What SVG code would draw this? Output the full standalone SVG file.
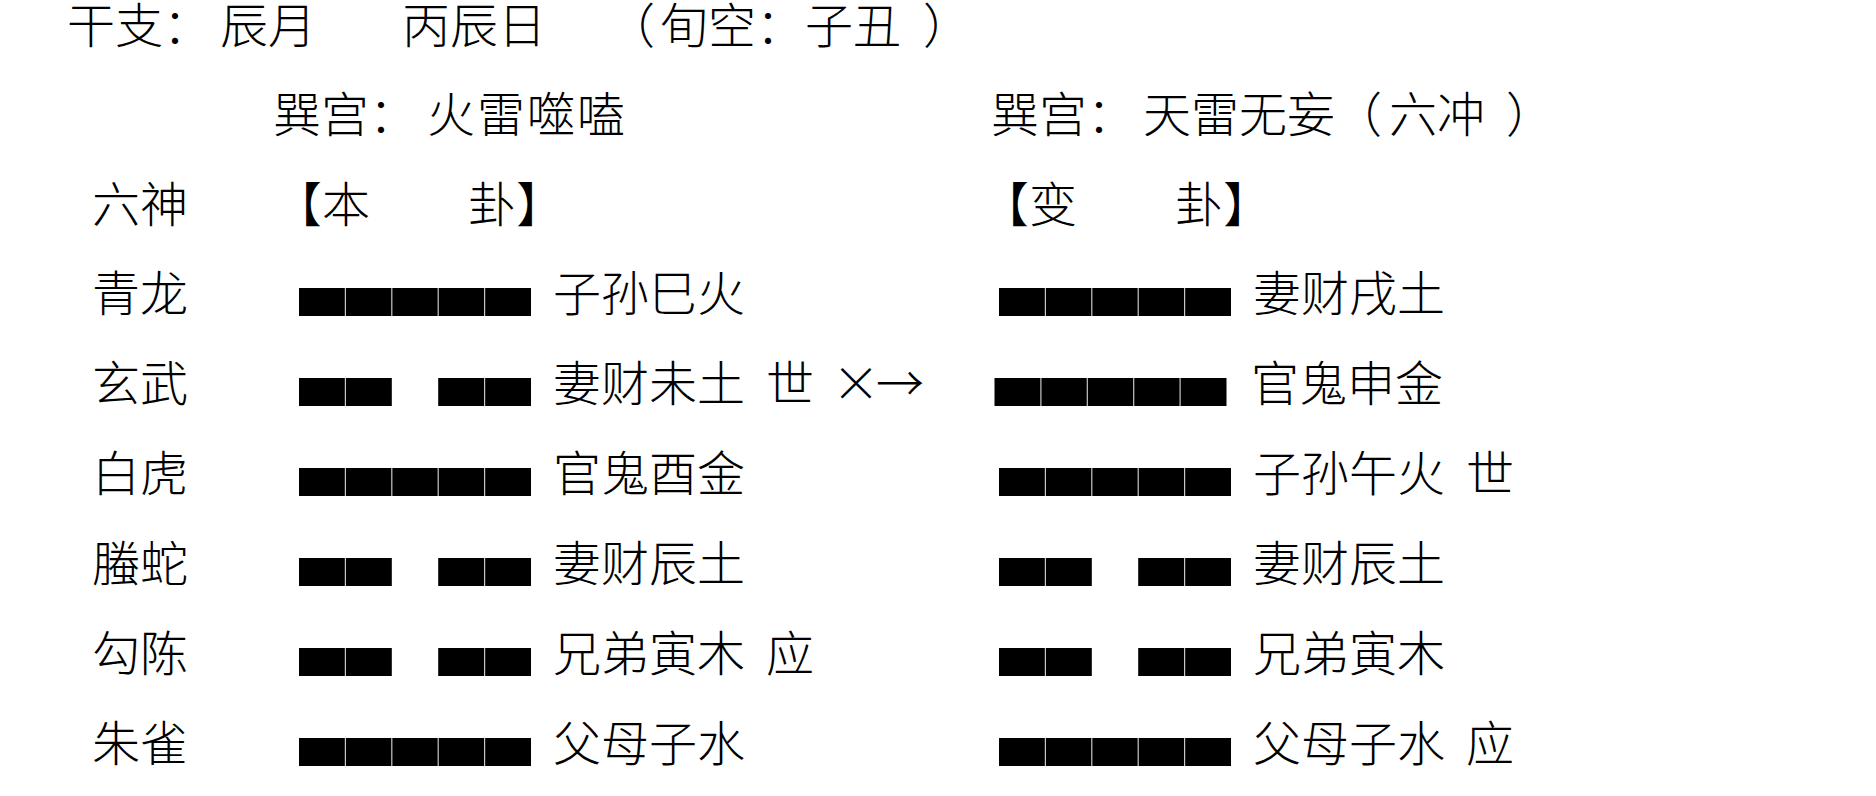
<svg xmlns="http://www.w3.org/2000/svg" width="1876" height="796" viewBox="0 0 1876 796">
<style>
text{font-family:"Noto Sans CJK SC","Noto Sans",sans-serif;font-size:48px;font-weight:300;fill:#000}
.sep{stroke:#c8c8c8;stroke-width:1.2}
</style>
<defs>
<g id="yang"><rect x="0" y="0" width="232" height="28" fill="#000"/><path class="sep" d="M46.4 0V28M92.8 0V28M139.2 0V28M185.6 0V28"/></g>
<g id="yin"><rect x="0" y="0" width="92.8" height="28" fill="#000"/><rect x="139.2" y="0" width="92.8" height="28" fill="#000"/><path class="sep" d="M46.4 0V28M185.6 0V28"/></g>
</defs>
<rect width="1876" height="796" fill="#fff"/>
<g id="header">
<text x="67" y="43">干支：</text>
<text x="220" y="43">辰月</text>
<text x="402" y="43">丙辰日</text>
<text x="607" y="43">（</text>
<text x="660" y="43">旬空：</text>
<text x="805" y="43">子丑</text>
<text x="923" y="43">）</text>
<text x="273" y="132">巽宫：</text>
<text x="427" y="132" letter-spacing="2">火雷噬嗑</text>
<text x="991" y="132">巽宫：</text>
<text x="1143" y="132">天雷无妄</text>
<text x="1334" y="132">（</text>
<text x="1389" y="132">六冲</text>
<text x="1506" y="132">）</text>
<text x="92" y="222">六神</text>
<text x="274" y="222">【本</text>
<text x="468" y="222">卦】</text>
<text x="981" y="222">【变</text>
<text x="1175" y="222">卦】</text>
</g>
<g id="row1">
<text x="92" y="311">青龙</text>
<use href="#yang" x="299" y="288"/>
<text x="553" y="311">子孙巳火</text>
<use href="#yang" x="999" y="288"/>
<text x="1253" y="311">妻财戌土</text>
</g>
<g id="row2">
<text x="92" y="401">玄武</text>
<use href="#yin" x="299" y="378"/>
<text x="553" y="401">妻财未土</text>
<text x="766" y="401">世</text>
<text x="832" y="401">×</text>
<text x="876" y="401">→</text>
<use href="#yang" x="994.5" y="378"/>
<text x="1251" y="401">官鬼申金</text>
</g>
<g id="row3">
<text x="92" y="491">白虎</text>
<use href="#yang" x="299" y="468"/>
<text x="553" y="491">官鬼酉金</text>
<use href="#yang" x="999" y="468"/>
<text x="1253" y="491">子孙午火</text>
<text x="1466" y="491">世</text>
</g>
<g id="row4">
<text x="92" y="581">螣蛇</text>
<use href="#yin" x="299" y="558"/>
<text x="553" y="581">妻财辰土</text>
<use href="#yin" x="999" y="558"/>
<text x="1253" y="581">妻财辰土</text>
</g>
<g id="row5">
<text x="92" y="671">勾陈</text>
<use href="#yin" x="299" y="648"/>
<text x="553" y="671">兄弟寅木</text>
<text x="766" y="671">应</text>
<use href="#yin" x="999" y="648"/>
<text x="1253" y="671">兄弟寅木</text>
</g>
<g id="row6">
<text x="92" y="761">朱雀</text>
<use href="#yang" x="299" y="738"/>
<text x="553" y="761">父母子水</text>
<use href="#yang" x="999" y="738"/>
<text x="1253" y="761">父母子水</text>
<text x="1466" y="761">应</text>
</g>
<g id="connectors"></g>
</svg>
